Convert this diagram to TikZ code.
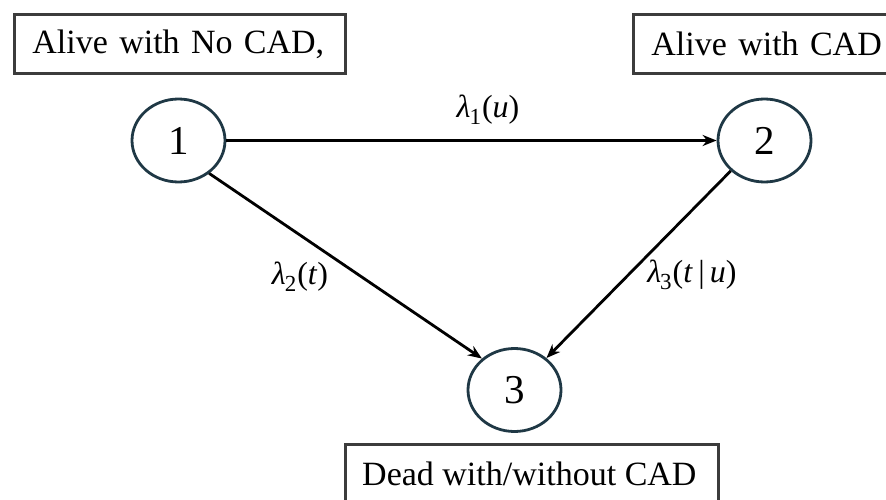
\documentclass[tikz,border=0pt]{standalone}
\usepackage{fontspec}
\setmainfont{Liberation Serif}
\usetikzlibrary{shapes.geometric,arrows.meta}
\definecolor{circcol}{HTML}{1F3845}
\definecolor{boxcol}{HTML}{3C3C3C}
\newcommand\lamlab[2]{\textit{λ}\kern-1pt\raisebox{-0.45ex}{\fontsize{23}{23}\selectfont #1}\kern1pt(#2)}
\tikzset{
  statebox/.style={draw=boxcol, line width=2.8pt, rectangle, anchor=north west, inner xsep=18pt, inner ysep=0pt, align=left, font=\fontsize{34}{40}\selectfont},
  statecirc/.style={draw=circcol, line width=2.8pt, ellipse, minimum width=93pt, minimum height=83pt, inner sep=0pt, font=\fontsize{41}{48}\selectfont},
  trans/.style={draw=black, line width=2.8pt, -{Stealth[length=14pt,width=11pt]}},
  lab/.style={font=\fontsize{32}{36}\selectfont, inner sep=0pt}
}
\begin{document}
\begin{tikzpicture}[x=1pt,y=-1pt]
\useasboundingbox (0,0) rectangle (886,500);
\node[statebox, minimum width=331pt, minimum height=59pt, text width=295pt] (b1) at (13,13) {Alive with No CAD,};
\node[statebox, minimum width=270pt, minimum height=59pt, text width=240pt] (b2) at (632,13) {Alive with CAD};
\node[draw=boxcol, line width=2.8pt, rectangle, anchor=north west, minimum width=373pt, minimum height=80pt, inner sep=0pt] (b3) at (344,443) {};
\node[font=\fontsize{34}{40}\selectfont, anchor=base west, inner sep=0pt] (t3) at (362,485) {Dead with/without CAD};
\node[statecirc] (c1) at (178.5,140.5) {1};
\node[statecirc] (c2) at (764.5,140.5) {2};
\node[statecirc] (c3) at (514.5,390) {3};
\draw[trans] (c1) -- (c2);
\draw[trans] (c1.-47) -- (c3.136);
\draw[trans] (c2.222) -- (c3.45);
\node[lab] (l1) at (488,110) {\lamlab{1}{\textit{u}}};
\node[lab] (l2) at (300,277) {\lamlab{2}{\textit{t}}};
\node[lab] (l3) at (692,275) {\lamlab{3}{\textit{t}\,|\,\textit{u}}};
\end{tikzpicture}
\end{document}
